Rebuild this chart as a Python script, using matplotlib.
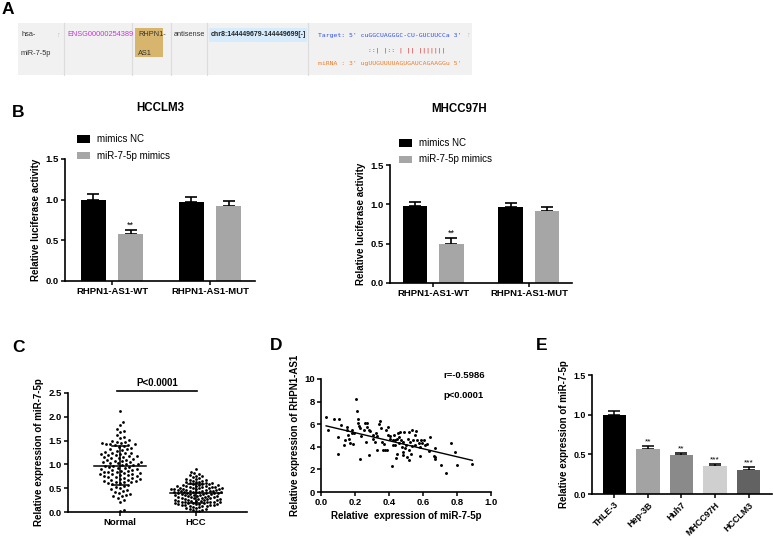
import numpy as np
import matplotlib
matplotlib.use("Agg")
import matplotlib.pyplot as plt
from matplotlib.patches import Rectangle
from matplotlib.lines import Line2D

plt.rcParams['font.family'] = ['Liberation Sans', 'DejaVu Sans']

# ---------------- data ----------------
b_groups = ["RHPN1-AS1-WT", "RHPN1-AS1-MUT"]
b_series = ["mimics NC", "miR-7-5p mimics"]
hcclm3_nc = [1.00, 0.97]
hcclm3_nc_err = [0.07, 0.06]
hcclm3_mim = [0.58, 0.92]
hcclm3_mim_err = [0.05, 0.06]
mhcc_nc = [0.98, 0.97]
mhcc_nc_err = [0.05, 0.05]
mhcc_mim = [0.50, 0.92]
mhcc_mim_err = [0.07, 0.05]

c_categories = ["Normal", "HCC"]
normal_vals = [2.13, 1.90, 1.83, 1.75, 1.70, 1.68, 1.62, 1.58, 1.55, 1.52, 1.50, 1.48,
               1.47, 1.45, 1.44, 1.43, 1.42, 1.42, 1.41, 1.40, 1.38, 1.36, 1.35, 1.33,
               1.32, 1.30, 1.28, 1.27, 1.25, 1.25, 1.24, 1.22, 1.21, 1.20, 1.19, 1.18,
               1.17, 1.16, 1.15, 1.14, 1.13, 1.12, 1.10, 1.09, 1.08, 1.07, 1.06, 1.05,
               1.04, 1.03, 1.02, 1.01, 1.00, 0.99, 0.98, 0.97, 0.96, 0.95, 0.94, 0.93,
               0.92, 0.91, 0.90, 0.89, 0.88, 0.87, 0.86, 0.85, 0.84, 0.83, 0.82, 0.81,
               0.80, 0.80, 0.79, 0.78, 0.77, 0.76, 0.75, 0.74, 0.73, 0.72, 0.71, 0.70,
               0.69, 0.68, 0.67, 0.66, 0.65, 0.64, 0.63, 0.62, 0.61, 0.60, 0.58, 0.56,
               0.54, 0.52, 0.50, 0.48, 0.46, 0.44, 0.42, 0.40, 0.38, 0.36, 0.34, 0.33,
               0.30, 0.26, 0.22, 0.05, 0.02]
hcc_vals = [0.90, 0.85, 0.82, 0.80, 0.78, 0.76, 0.75, 0.73, 0.72, 0.70, 0.69, 0.68,
            0.67, 0.66, 0.65, 0.64, 0.63, 0.62, 0.61, 0.60, 0.60, 0.59, 0.58, 0.58,
            0.57, 0.56, 0.56, 0.55, 0.55, 0.54, 0.54, 0.53, 0.53, 0.52, 0.52, 0.51,
            0.51, 0.50, 0.50, 0.50, 0.49, 0.49, 0.48, 0.48, 0.48, 0.47, 0.47, 0.46,
            0.46, 0.45, 0.45, 0.45, 0.44, 0.44, 0.43, 0.43, 0.42, 0.42, 0.41, 0.41,
            0.40, 0.40, 0.40, 0.39, 0.39, 0.38, 0.38, 0.37, 0.37, 0.36, 0.36, 0.35,
            0.35, 0.34, 0.34, 0.33, 0.33, 0.32, 0.32, 0.31, 0.31, 0.30, 0.30, 0.29,
            0.29, 0.28, 0.28, 0.27, 0.27, 0.26, 0.26, 0.25, 0.25, 0.24, 0.24, 0.23,
            0.23, 0.22, 0.22, 0.21, 0.21, 0.20, 0.20, 0.19, 0.19, 0.18, 0.18, 0.17,
            0.17, 0.16, 0.16, 0.15, 0.15, 0.14, 0.14, 0.13, 0.13, 0.12, 0.11, 0.10,
            0.09, 0.08, 0.07, 0.06, 0.05, 0.04, 0.03, 0.02]

d_mir = [0.03, 0.04, 0.077, 0.108, 0.098, 0.10, 0.12, 0.135, 0.14, 0.15, 0.15, 0.16,
         0.165, 0.17, 0.18, 0.18, 0.187, 0.195, 0.206, 0.214, 0.216, 0.22, 0.224, 0.23,
         0.23, 0.236, 0.25, 0.26, 0.27, 0.273, 0.28, 0.265, 0.285, 0.29, 0.305, 0.308,
         0.315, 0.324, 0.328, 0.33, 0.344, 0.348, 0.352, 0.357, 0.363, 0.37, 0.377, 0.383,
         0.387, 0.393, 0.397, 0.403, 0.407, 0.416, 0.422, 0.426, 0.43, 0.436, 0.438, 0.44,
         0.446, 0.446, 0.45, 0.456, 0.46, 0.466, 0.47, 0.475, 0.48, 0.483, 0.485, 0.49,
         0.495, 0.50, 0.505, 0.509, 0.515, 0.519, 0.52, 0.525, 0.53, 0.534, 0.538, 0.544,
         0.55, 0.554, 0.56, 0.564, 0.574, 0.58, 0.583, 0.587, 0.593, 0.603, 0.613, 0.623,
         0.633, 0.642, 0.662, 0.668, 0.672, 0.672, 0.705, 0.737, 0.766, 0.79, 0.80, 0.888]
d_rhpn = [6.63, 5.47, 6.45, 6.45, 4.88, 3.40, 5.89, 4.20, 4.59, 5.77, 5.47, 5.03,
          4.73, 4.35, 5.18, 5.47, 4.29, 5.24, 8.20, 7.19, 6.45, 6.12, 5.83, 5.62,
          2.96, 4.97, 5.47, 6.12, 6.12, 5.77, 3.25, 4.44, 5.53, 5.38, 5.03, 4.73,
          4.44, 5.18, 4.94, 3.76, 6.00, 6.27, 5.62, 4.44, 3.76, 4.29, 3.76, 5.47,
          3.76, 5.03, 5.71, 4.94, 4.73, 2.28, 4.59, 4.20, 5.03, 4.59, 4.14, 3.05,
          4.73, 3.40, 5.24, 4.88, 4.35, 5.33, 4.59, 4.00, 3.55, 3.25, 4.44, 5.33,
          3.85, 4.14, 3.10, 4.73, 3.70, 5.33, 2.81, 4.44, 3.40, 5.47, 4.05, 4.59,
          4.20, 5.03, 5.38, 4.59, 4.35, 4.00, 3.17, 4.59, 4.35, 4.59, 4.20, 4.29,
          3.61, 4.88, 3.17, 2.96, 3.93, 3.10, 2.43, 1.72, 4.35, 3.55, 2.43, 2.51]
d_fit_slope = -3.55
d_fit_intercept = 5.96
d_fit_range = [0.03, 0.89]
d_r_text = "r=-0.5986"
d_p_text = "p<0.0001"

e_cells = ["THLE-3", "Hep-3B", "Huh7", "MHCC97H", "HCCLM3"]
e_vals = [1.00, 0.57, 0.49, 0.35, 0.30]
e_err = [0.04, 0.04, 0.03, 0.03, 0.04]
e_stars = ["", "**", "**", "***", "***"]
e_colors = ["#000000", "#a3a3a3", "#8a8a8a", "#cfcfcf", "#626262"]

# ---------------- figure ----------------
W, H = 773, 537
fig = plt.figure(figsize=(W / 100, H / 100), dpi=100)


def fx(x):
    return x / W


def fy(y):
    return 1 - y / H


def ax_px(x0, y0, x1, y1):
    return fig.add_axes([fx(x0), fy(y1), (x1 - x0) / W, (y1 - y0) / H])


LAB_FS = 7


def style(ax, tick_fs=6.8):
    for s in ['top', 'right']:
        ax.spines[s].set_visible(False)
    for s in ['left', 'bottom']:
        ax.spines[s].set_linewidth(1.2)
    ax.tick_params(length=3, width=1.1, labelsize=tick_fs, pad=1.5)
    for lab in ax.get_xticklabels() + ax.get_yticklabels():
        lab.set_fontweight('bold')


# panel letters
for letter, x, y in [("A", 2, 10), ("B", 12, 113), ("C", 12, 347), ("D", 270, 346), ("E", 536, 346)]:
    fig.text(fx(x), fy(y), letter, fontsize=12.5, fontweight='bold', va='center', ha='left')

# ---------------- panel A: table ----------------
fig.add_artist(Rectangle((fx(18), fy(75)), (472 - 18) / W, (75 - 23) / H,
                         transform=fig.transFigure, facecolor='#f1f1f1', edgecolor='none'))
for xs in [64, 132, 171, 207, 308]:
    fig.add_artist(Line2D([fx(xs), fx(xs)], [fy(23), fy(75)], transform=fig.transFigure,
                          color='#dcdcdc', lw=0.8))
fig.add_artist(Rectangle((fx(135), fy(57)), 28 / W, 29 / H, transform=fig.transFigure,
                         facecolor='#d7b56d', edgecolor='none'))
fig.add_artist(Rectangle((fx(209), fy(42)), 98 / W, 14 / H, transform=fig.transFigure,
                         facecolor='#d6ebfb', edgecolor='none'))
tfs = 5.3
fig.text(fx(21), fy(35), "hsa-", fontsize=tfs, va='center', color='#333333')
fig.text(fx(21), fy(53), "miR-7-5p", fontsize=tfs, va='center', color='#333333')
fig.text(fx(56), fy(35), "↑", fontsize=tfs, va='center', color='#bbbbbb')
fig.text(fx(67), fy(35), "ENSG00000254389", fontsize=tfs, va='center', color='#c435d8')
fig.text(fx(138), fy(35), "RHPN1-", fontsize=tfs, va='center', color='#333333')
fig.text(fx(138), fy(53), "AS1", fontsize=tfs, va='center', color='#333333')
fig.text(fx(174), fy(35), "antisense", fontsize=tfs, va='center', color='#333333')
fig.text(fx(211), fy(35), "chr8:144449679-144449699[-]", fontsize=5.0, va='center',
         color='#222222', fontweight='bold')
mono = dict(family='DejaVu Sans Mono', fontsize=4.6, va='center')
fig.text(fx(318), fy(35), "Target: 5' cuGGCUAGGGC-CU-GUCUUCCa 3'", color='#3050e8', **mono)
fig.text(fx(368), fy(50), "::| |:: | || |||||||", color='#e03030', **mono)
fig.text(fx(318), fy(64), "miRNA : 3' ugUUGUUUUAGUGAUCAGAAGGu 5'", color='#f07a25', **mono)
fig.text(fx(466), fy(35), "↑", fontsize=tfs, va='center', color='#bbbbbb')

# ---------------- panel B ----------------
def bar_panel(ax, nc, nc_err, mim, mim_err, xlim, title, title_xy, legend_xy):
    x = np.arange(len(b_groups))
    off, w = 0.19, 0.255
    ax.bar(x - off, nc, w, color='#000000', zorder=2)
    ax.bar(x + off, mim, w, color='#a6a6a6', zorder=2)
    ax.errorbar(x - off, nc, yerr=[np.zeros(len(nc)), nc_err], fmt='none', ecolor='black',
                elinewidth=1.2, capsize=4.5, capthick=1.2, zorder=1)
    ax.errorbar(x + off, mim, yerr=[np.zeros(len(mim)), mim_err], fmt='none', ecolor='black',
                elinewidth=1.2, capsize=4.5, capthick=1.2, zorder=1)
    ax.text(x[0] + off, mim[0] + mim_err[0] + 0.005, "**", ha='center', va='bottom', fontsize=6.5)
    ax.set_xlim(*xlim)
    ax.set_ylim(0, 1.5)
    ax.set_yticks([0, 0.5, 1.0, 1.5])
    ax.set_yticklabels(["0.0", "0.5", "1.0", "1.5"])
    ax.set_xticks(x)
    ax.set_xticklabels(b_groups)
    ax.set_ylabel("Relative luciferase activity", fontsize=LAB_FS, fontweight='bold', labelpad=3)
    style(ax)
    fig.text(fx(title_xy[0]), fy(title_xy[1]), title, fontsize=8.3, fontweight='bold',
             ha='center', va='center')
    lx, ly = legend_xy
    for i, (lab, col) in enumerate(zip(b_series, ['#000000', '#a6a6a6'])):
        yy = ly + i * 16.5
        fig.add_artist(Rectangle((fx(lx), fy(yy + 3.5)), 13 / W, 7 / H, transform=fig.transFigure,
                                 facecolor=col, edgecolor='none'))
        fig.text(fx(lx + 20), fy(yy), lab, fontsize=7, va='center', ha='left')


axB1 = ax_px(65, 159, 255, 281)
bar_panel(axB1, hcclm3_nc, hcclm3_nc_err, hcclm3_mim, hcclm3_mim_err, (-0.48, 1.46),
          "HCCLM3", (160, 108), (77, 139))
axB2 = ax_px(390, 165, 572, 283)
bar_panel(axB2, mhcc_nc, mhcc_nc_err, mhcc_mim, mhcc_mim_err, (-0.45, 1.45),
          "MHCC97H", (459, 109), (399, 143))

# ---------------- panel C ----------------
axC = ax_px(68, 393, 247, 512)


def swarm(vals, d_px, ypu, xpu):
    vals = np.asarray(vals, float)
    order = np.argsort(vals)
    placed = []
    xs = np.zeros(len(vals))
    step = d_px / 4.0
    cands = [0.0]
    for k in range(1, 200):
        cands += [k * step, -k * step]
    for i in order:
        y = vals[i] * ypu
        near = [(px, py) for px, py in placed if abs(y - py) < d_px]
        for c in cands:
            if all((c - px) ** 2 + (y - py) ** 2 >= d_px ** 2 for px, py in near):
                break
        placed.append((c, y))
        xs[i] = c / xpu
    return xs


ypu_c, xpu_c = 119 / 2.5, 76.0
for i, (vals, dpx) in enumerate([(normal_vals, 4.2), (hcc_vals, 3.2)]):
    xo = swarm(vals, dpx, ypu_c, xpu_c)
    axC.scatter(i + xo, vals, s=4, color='black', linewidths=0, zorder=3, clip_on=False)
    m, sd = np.mean(vals), np.std(vals, ddof=1)
    axC.plot([i - 0.34, i + 0.34], [m, m], color='black', lw=1.1, zorder=4)
    axC.plot([i - 0.1, i + 0.1], [m + sd, m + sd], color='black', lw=1.1, zorder=4)
    axC.plot([i - 0.1, i + 0.1], [m - sd, m - sd], color='black', lw=1.1, zorder=4)
    axC.plot([i, i], [m - sd, m + sd], color='black', lw=1.1, zorder=4)
axC.set_xlim(-0.68, 1.67)
axC.set_ylim(0, 2.5)
axC.set_yticks([0, 0.5, 1.0, 1.5, 2.0, 2.5])
axC.set_yticklabels(["0.0", "0.5", "1.0", "1.5", "2.0", "2.5"])
axC.set_xticks([0, 1])
axC.set_xticklabels(c_categories)
axC.set_ylabel("Relative expression of miR-7-5p", fontsize=LAB_FS, fontweight='bold', labelpad=3)
style(axC)
axC.plot([-0.04, 1.02], [2.54, 2.54], color='black', lw=1.2, clip_on=False)
axC.text(0.49, 2.60, "P<0.0001", ha='center', va='bottom', fontsize=7, fontweight='bold')

# ---------------- panel D ----------------
axD = ax_px(321, 379, 491, 492)
axD.scatter(d_mir, d_rhpn, s=4.5, color='black', linewidths=0, zorder=3)
xx = np.array(d_fit_range)
axD.plot(xx, d_fit_intercept + d_fit_slope * xx, color='black', lw=1.0)
axD.set_xlim(0, 1.0)
axD.set_ylim(0, 10)
axD.set_xticks([0, 0.2, 0.4, 0.6, 0.8, 1.0])
axD.set_xticklabels(["0.0", "0.2", "0.4", "0.6", "0.8", "1.0"])
axD.set_yticks([0, 2, 4, 6, 8, 10])
axD.set_xlabel("Relative  expression of miR-7-5p", fontsize=LAB_FS, fontweight='bold', labelpad=3)
axD.set_ylabel("Relative expression of RHPN1-AS1", fontsize=LAB_FS, fontweight='bold', labelpad=3)
style(axD)
fig.text(fx(443), fy(376), d_r_text, fontsize=6.8, fontweight='bold', va='center')
fig.text(fx(443), fy(396), d_p_text, fontsize=6.8, fontweight='bold', va='center')

# ---------------- panel E ----------------
axE = ax_px(592, 375, 772, 494)
xe = np.arange(len(e_cells))
axE.bar(xe, e_vals, 0.69, color=e_colors, zorder=2)
axE.errorbar(xe, e_vals, yerr=[np.zeros(len(e_vals)), e_err], fmt='none', ecolor='black',
             elinewidth=1.1, capsize=4, capthick=1.1, zorder=1)
for xi, v, er, st in zip(xe, e_vals, e_err, e_stars):
    if st:
        axE.text(xi, v + er + 0.005, st, ha='center', va='bottom', fontsize=6)
axE.set_xlim(-0.67, 4.7)
axE.set_ylim(0, 1.5)
axE.set_yticks([0, 0.5, 1.0, 1.5])
axE.set_yticklabels(["0.0", "0.5", "1.0", "1.5"])
axE.set_xticks(xe)
axE.set_xticklabels(e_cells, rotation=45, ha='right', rotation_mode='anchor')
axE.set_ylabel("Relative expression of miR-7-5p", fontsize=LAB_FS, fontweight='bold', labelpad=3)
style(axE, tick_fs=6.4)

fig.savefig("out.png", dpi=100)
